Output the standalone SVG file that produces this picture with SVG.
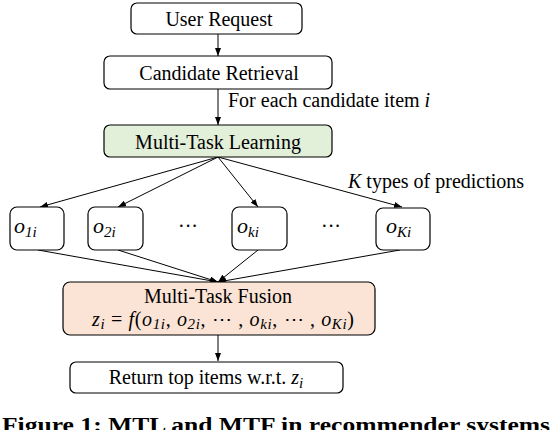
<svg xmlns="http://www.w3.org/2000/svg" width="552" height="430" viewBox="0 0 552 430">
<defs>
<marker id="ah" markerWidth="8" markerHeight="6" refX="8" refY="3" orient="auto" markerUnits="userSpaceOnUse">
<path d="M0,0 L8,3 L0,6 z" fill="#000"/>
</marker>
<style>
.box{stroke:#000;stroke-width:1.2;fill:#fff}
.t{font-family:"Liberation Serif","Times New Roman",serif;font-size:20px;fill:#000}
.m{font-family:"Liberation Serif","Times New Roman",serif;font-style:italic;fill:#000}
.s{font-size:15px}
.c line{stroke:#000;stroke-width:1;marker-end:url(#ah)}
.cap{font-family:"Liberation Serif","Times New Roman",serif;font-weight:bold;font-size:22px;fill:#000}
</style>
</defs>
<rect width="552" height="430" fill="#fff"/>
<g class="c">
<line x1="218" y1="34" x2="218" y2="56"/>
<line x1="218" y1="89" x2="218" y2="125"/>
<line x1="218" y1="157" x2="40" y2="207"/>
<line x1="218" y1="157" x2="118" y2="207"/>
<line x1="218" y1="157" x2="258" y2="207"/>
<line x1="218" y1="157" x2="402" y2="207"/>
<line x1="38" y1="250" x2="218" y2="282"/>
<line x1="118" y1="250" x2="218" y2="282"/>
<line x1="258" y1="250" x2="218" y2="282"/>
<line x1="400" y1="250" x2="218" y2="282"/>
<line x1="218" y1="335" x2="218" y2="361"/>
</g>
<g id="user-request">
<rect class="box" x="131" y="3" width="171" height="31" rx="6"/>
<text class="t" x="219" y="26" text-anchor="middle">User Request</text>
</g>
<g id="candidate-retrieval">
<rect class="box" x="104" y="56" width="228" height="33" rx="6"/>
<text class="t" x="219" y="80" text-anchor="middle">Candidate Retrieval</text>
</g>
<text class="t" x="228" y="107">For each candidate item <tspan class="m">i</tspan></text>
<g id="mtl">
<rect class="box" x="104" y="125" width="228" height="32" rx="6" style="fill:#e2efd9"/>
<text class="t" x="218" y="149" text-anchor="middle">Multi-Task Learning</text>
</g>
<text class="t" x="348" y="188"><tspan class="m">K</tspan> types of predictions</text>
<g id="o1">
<rect class="box" x="10" y="207" width="54" height="43" rx="7"/>
<text class="m" x="14" y="233" font-size="22">o<tspan class="s" dy="4">1i</tspan></text>
</g>
<g id="o2">
<rect class="box" x="88" y="207" width="55" height="43" rx="7"/>
<text class="m" x="93" y="233" font-size="22">o<tspan class="s" dy="4">2i</tspan></text>
</g>
<text class="t" x="188" y="233" text-anchor="middle">···</text>
<g id="ok">
<rect class="box" x="232" y="207" width="55" height="43" rx="7"/>
<text class="m" x="237" y="233" font-size="22">o<tspan class="s" dy="4">ki</tspan></text>
</g>
<text class="t" x="331" y="233" text-anchor="middle">···</text>
<g id="oK">
<rect class="box" x="376" y="208" width="54" height="42" rx="7"/>
<text class="m" x="386" y="233" font-size="22">o<tspan class="s" dy="4">Ki</tspan></text>
</g>
<g id="mtf">
<rect class="box" x="63" y="282" width="312" height="53" rx="7" style="fill:#fbe4d5"/>
<text class="t" x="218" y="303" text-anchor="middle">Multi-Task Fusion</text>
<text class="t" x="223" y="326" text-anchor="middle" textLength="262" lengthAdjust="spacing" font-size="20"><tspan class="m">z</tspan><tspan class="m s" dy="3">i</tspan><tspan dy="-3"> = </tspan><tspan class="m">f</tspan>(<tspan class="m">o</tspan><tspan class="m s" dy="3">1i</tspan><tspan dy="-3">, </tspan><tspan class="m">o</tspan><tspan class="m s" dy="3">2i</tspan><tspan dy="-3">, ⋯ , </tspan><tspan class="m">o</tspan><tspan class="m s" dy="3">ki</tspan><tspan dy="-3">, ⋯ , </tspan><tspan class="m">o</tspan><tspan class="m s" dy="3">Ki</tspan><tspan dy="-3">)</tspan></text>
</g>
<g id="return">
<rect class="box" x="70" y="362" width="273" height="31" rx="6"/>
<text class="t" x="206" y="384" text-anchor="middle">Return top items w.r.t. <tspan class="m">z</tspan><tspan class="m s" dy="4">i</tspan></text>
</g>
<text class="cap" x="2" y="432" textLength="548" lengthAdjust="spacingAndGlyphs">Figure 1: MTL and MTF in recommender systems</text>
</svg>
